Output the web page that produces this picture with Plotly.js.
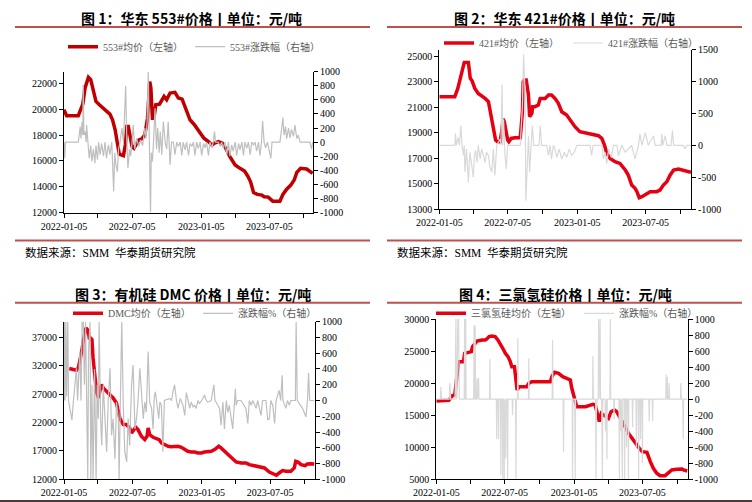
<!DOCTYPE html>
<html>
<head>
<meta charset="utf-8">
<script src="https://cdn.plot.ly/plotly-3.0.1.min.js"></script>
<style>
html,body{margin:0;padding:0;background:#fff;}
#chart{width:752px;height:502px;}
</style>
</head>
<body>
<div id="chart"></div>
<script>
// ---------------- DATA ----------------
const xTickVals = ['2022-01-05','2022-04-05','2022-07-05','2022-10-05','2023-01-05','2023-04-05','2023-07-05','2023-10-05'];
const xTickText = ['2022-01-05','','2022-07-05','','2023-01-05','','2023-07-05',''];

// Figure 1: 华东553#
const p1PriceDates = ['2022-01-05','2022-01-12','2022-02-12','2022-02-18','2022-02-24','2022-03-02','2022-03-11','2022-03-17','2022-03-24','2022-03-31','2022-04-09','2022-04-18','2022-04-28','2022-05-07','2022-05-14','2022-05-21','2022-05-27','2022-06-01','2022-06-12','2022-06-17','2022-06-21','2022-06-25','2022-06-30','2022-07-05','2022-07-10','2022-07-17','2022-07-23','2022-07-31','2022-08-08','2022-08-15','2022-08-18','2022-08-21','2022-08-24','2022-08-28','2022-09-01','2022-09-06','2022-09-16','2022-09-22','2022-09-28','2022-10-05','2022-10-14','2022-10-27','2022-11-05','2022-11-15','2022-11-25','2022-12-06','2022-12-19','2023-01-02','2023-01-12','2023-01-24','2023-02-02','2023-02-09','2023-02-19','2023-03-02','2023-03-11','2023-03-22','2023-04-05','2023-04-18','2023-04-30','2023-05-08','2023-05-16','2023-05-24','2023-06-03','2023-06-15','2023-06-21','2023-07-02','2023-07-14','2023-08-02','2023-08-10','2023-08-20','2023-08-31','2023-09-09','2023-09-16','2023-09-26','2023-10-12','2023-10-28'];
const p1Price = [19950,19490,19490,19950,20390,21640,22470,22290,21380,20600,20340,20080,19880,19620,19180,18400,17360,16510,16400,17230,18660,18660,17880,17100,16970,17360,17620,17700,18010,19300,21120,22130,21640,19300,19300,20340,20390,20650,20990,20730,21250,21300,20860,20780,19950,19180,18740,18140,17750,17490,17230,17360,17490,17360,16970,16330,15680,15420,15210,14850,14380,13550,13400,13350,13220,13190,12880,12880,13400,13810,14120,14510,15110,15420,15370,15030];
const p1ChgDates = ['2022-01-05','2022-01-07','2022-01-09','2022-02-12','2022-02-17','2022-02-19','2022-02-22','2022-02-24','2022-02-25','2022-02-27','2022-03-02','2022-03-05','2022-03-06','2022-03-09','2022-03-13','2022-03-17','2022-03-20','2022-03-24','2022-03-28','2022-03-31','2022-04-04','2022-04-07','2022-04-11','2022-04-15','2022-04-20','2022-04-24','2022-04-28','2022-05-03','2022-05-07','2022-05-12','2022-05-14','2022-05-17','2022-05-20','2022-05-23','2022-05-27','2022-05-30','2022-06-03','2022-06-08','2022-06-12','2022-06-15','2022-06-18','2022-06-21','2022-06-24','2022-06-28','2022-07-01','2022-07-05','2022-07-08','2022-07-12','2022-07-17','2022-07-23','2022-07-28','2022-08-02','2022-08-08','2022-08-11','2022-08-14','2022-08-17','2022-08-20','2022-08-23','2022-08-25','2022-08-28','2022-08-31','2022-09-04','2022-09-08','2022-09-11','2022-09-15','2022-09-18','2022-09-22','2022-09-26','2022-10-01','2022-10-05','2022-10-09','2022-10-14','2022-10-18','2022-10-23','2022-10-27','2022-11-01','2022-11-05','2022-11-10','2022-11-14','2022-11-18','2022-11-23','2022-11-27','2022-12-02','2022-12-06','2022-12-11','2022-12-15','2022-12-19','2022-12-24','2022-12-28','2023-01-02','2023-01-06','2023-01-11','2023-01-15','2023-01-19','2023-01-24','2023-01-28','2023-02-02','2023-02-06','2023-02-09','2023-02-12','2023-02-19','2023-02-24','2023-02-28','2023-03-05','2023-03-09','2023-03-14','2023-03-18','2023-03-22','2023-03-27','2023-03-31','2023-04-05','2023-04-09','2023-04-14','2023-04-18','2023-04-23','2023-04-27','2023-05-01','2023-05-06','2023-05-10','2023-05-15','2023-05-19','2023-05-24','2023-05-28','2023-06-01','2023-06-06','2023-06-10','2023-06-14','2023-06-17','2023-06-21','2023-06-25','2023-06-30','2023-07-09','2023-07-12','2023-08-02','2023-08-07','2023-08-10','2023-08-13','2023-08-17','2023-08-20','2023-08-25','2023-08-29','2023-09-02','2023-09-07','2023-09-11','2023-09-16','2023-09-20','2023-09-25','2023-10-21','2023-10-25','2023-10-28'];
const p1Chg = [0,-230,0,0,220,50,290,100,815,100,150,0,245,0,-230,-50,-275,-100,-300,-50,-250,0,-180,-20,-200,0,-230,-40,-180,0,-370,-700,-150,-320,-420,-100,0,200,0,500,800,0,-370,-100,-200,0,245,-100,50,-60,30,-50,200,50,290,1000,200,-1000,-150,-275,0,480,-100,200,-150,150,-180,290,0,-100,290,-320,0,0,-180,0,-60,0,-190,0,-110,0,-190,-20,-60,0,-190,0,-90,0,-190,-20,-80,0,-190,0,-80,0,150,0,0,-60,0,-80,0,-180,0,-200,-40,-130,0,-190,-20,-110,0,-190,0,-90,0,-180,0,-40,0,-130,0,-190,0,300,0,-80,0,-230,0,0,200,350,100,220,50,200,60,180,80,240,50,100,0,0,-100,0];

// Figure 2: 华东421#
const p2PriceDates = ['2022-01-05','2022-02-15','2022-02-23','2022-03-01','2022-03-07','2022-03-12','2022-03-23','2022-03-28','2022-04-02','2022-04-09','2022-04-18','2022-04-27','2022-05-06','2022-05-15','2022-05-19','2022-05-24','2022-05-31','2022-06-03','2022-06-08','2022-06-15','2022-06-19','2022-06-23','2022-06-26','2022-06-30','2022-07-05','2022-07-08','2022-07-14','2022-07-24','2022-08-07','2022-08-09','2022-08-13','2022-08-15','2022-08-18','2022-08-23','2022-08-29','2022-09-01','2022-09-07','2022-09-09','2022-09-15','2022-09-24','2022-09-29','2022-10-12','2022-10-21','2022-10-29','2022-11-07','2022-11-16','2022-11-25','2022-12-08','2022-12-17','2022-12-30','2023-01-12','2023-01-21','2023-02-04','2023-02-17','2023-03-02','2023-03-11','2023-03-18','2023-03-24','2023-04-02','2023-04-15','2023-04-28','2023-05-12','2023-05-20','2023-05-29','2023-06-07','2023-06-12','2023-06-18','2023-06-25','2023-07-04','2023-07-17','2023-08-03','2023-08-12','2023-08-21','2023-08-30','2023-09-08','2023-09-17','2023-09-30','2023-10-13','2023-11-02'];
const p2Price = [21810,21810,22460,23250,23900,24500,24500,23250,23040,22460,22070,21890,21680,21420,20760,19980,19070,18410,18280,18280,19070,20060,19850,19010,18410,18280,18540,18590,18590,19200,20630,22990,23120,23120,21940,20240,20500,21030,21030,21160,21680,21680,21940,21940,21680,21290,20630,20370,19980,19460,19070,19010,18930,18800,18750,18540,18020,17370,16970,16710,16580,16060,15670,14880,14620,14360,13890,13970,14100,14360,14360,14490,14880,15140,15670,16060,16140,16060,15880];
const p2ChgDates = ['2022-01-05','2022-02-15','2022-02-17','2022-02-19','2022-02-24','2022-02-27','2022-03-03','2022-03-06','2022-03-10','2022-03-12','2022-03-14','2022-03-18','2022-03-23','2022-03-27','2022-04-01','2022-04-05','2022-04-08','2022-04-11','2022-04-15','2022-04-18','2022-04-23','2022-04-27','2022-05-02','2022-05-06','2022-05-10','2022-05-15','2022-05-19','2022-05-24','2022-05-28','2022-06-01','2022-06-06','2022-06-15','2022-06-17','2022-06-20','2022-06-22','2022-06-24','2022-06-28','2022-07-01','2022-07-05','2022-08-07','2022-08-09','2022-08-13','2022-08-16','2022-08-20','2022-08-22','2022-08-25','2022-08-29','2022-09-01','2022-09-05','2022-09-08','2022-09-12','2022-09-26','2022-09-29','2022-10-03','2022-10-16','2022-10-21','2022-10-25','2022-10-29','2022-11-03','2022-11-07','2022-11-12','2022-11-18','2022-11-25','2022-12-02','2022-12-08','2022-12-15','2022-12-21','2022-12-28','2023-01-04','2023-02-08','2023-02-12','2023-02-16','2023-03-11','2023-03-15','2023-03-20','2023-03-24','2023-03-29','2023-04-05','2023-04-11','2023-04-20','2023-04-24','2023-05-03','2023-05-12','2023-05-20','2023-05-29','2023-06-07','2023-06-12','2023-06-16','2023-06-20','2023-06-25','2023-07-04','2023-07-12','2023-07-26','2023-07-30','2023-08-15','2023-08-17','2023-08-19','2023-08-26','2023-08-30','2023-09-10','2023-09-14','2023-09-17','2023-10-13','2023-10-17','2023-10-22','2023-11-02'];
const p2Chg = [0,0,190,0,125,0,310,0,-160,0,-420,-60,-580,-110,-320,-500,-160,-80,-270,0,-215,-60,-160,-270,-110,-160,-345,-420,-60,-475,0,100,0,950,0,410,-160,-370,0,0,200,620,1430,830,-870,-270,150,-420,0,310,0,0,310,0,0,-160,0,-215,0,-60,-190,-60,-215,-110,-190,-60,-160,-110,0,0,-160,0,0,-215,-110,-290,-60,-190,0,0,-160,0,-110,-60,0,-215,-110,0,180,0,200,0,150,0,0,180,0,150,0,0,230,0,0,-60,0,0];

// Figure 3: 有机硅DMC
const p3PriceDates = ['2022-01-19','2022-02-07','2022-02-12','2022-02-16','2022-02-21','2022-02-25','2022-03-04','2022-03-10','2022-03-13','2022-03-16','2022-03-20','2022-03-23','2022-03-28','2022-04-01','2022-04-06','2022-04-10','2022-04-14','2022-04-19','2022-04-28','2022-05-06','2022-05-15','2022-05-24','2022-05-28','2022-06-02','2022-06-06','2022-06-11','2022-06-19','2022-06-28','2022-07-03','2022-07-07','2022-07-14','2022-07-20','2022-07-29','2022-08-07','2022-08-13','2022-08-16','2022-08-20','2022-08-29','2022-09-07','2022-09-14','2022-09-20','2022-09-29','2022-10-08','2022-10-16','2022-10-25','2022-11-03','2022-11-12','2022-11-21','2022-11-29','2022-12-08','2022-12-17','2022-12-26','2023-01-04','2023-01-12','2023-01-21','2023-01-30','2023-02-08','2023-02-19','2023-02-25','2023-03-06','2023-03-15','2023-03-26','2023-04-06','2023-04-19','2023-05-02','2023-05-11','2023-05-24','2023-06-07','2023-06-20','2023-07-03','2023-07-16','2023-07-22','2023-07-29','2023-08-07','2023-08-16','2023-08-29','2023-09-07','2023-09-11','2023-09-17','2023-09-25','2023-10-06','2023-10-12','2023-10-21','2023-10-30'];
const p3Price = [31530,31240,31650,32820,34590,36350,38710,38240,36940,36940,36650,33410,30470,27530,26350,27820,28710,28120,27530,26820,26350,25470,24000,22820,22240,21650,21650,21060,20180,20470,21180,20760,19590,19000,19590,21060,19880,19410,19180,19000,18410,18120,17820,17760,17820,17820,17650,17240,16940,16820,16820,16650,16650,16820,16940,16940,17240,17820,17530,16940,16350,15650,15060,14880,14880,14590,14410,14290,14000,13290,12940,12710,13120,13530,13410,13410,14000,15180,15060,14590,14410,14710,14760,14710];
const p3ChgDates = ['2022-01-05','2022-01-06','2022-01-08','2022-01-10','2022-01-12','2022-01-15','2022-01-17','2022-01-26','2022-01-30','2022-02-07','2022-02-10','2022-02-16','2022-02-19','2022-02-22','2022-02-25','2022-02-28','2022-03-03','2022-03-06','2022-03-09','2022-03-11','2022-03-15','2022-03-17','2022-03-20','2022-03-23','2022-03-27','2022-03-31','2022-04-03','2022-04-06','2022-04-08','2022-04-12','2022-04-15','2022-04-19','2022-04-23','2022-04-28','2022-05-02','2022-05-07','2022-05-11','2022-05-15','2022-05-20','2022-05-24','2022-05-29','2022-05-31','2022-06-04','2022-06-07','2022-06-11','2022-06-15','2022-06-20','2022-06-24','2022-06-28','2022-07-03','2022-07-07','2022-07-12','2022-07-16','2022-07-20','2022-07-25','2022-07-29','2022-08-03','2022-08-07','2022-08-11','2022-08-16','2022-08-20','2022-08-25','2022-08-29','2022-09-01','2022-09-04','2022-09-07','2022-09-09','2022-09-13','2022-09-16','2022-09-20','2022-09-24','2022-09-28','2022-10-12','2022-10-17','2022-10-21','2022-10-25','2022-10-30','2022-11-03','2022-11-09','2022-11-16','2022-11-21','2022-11-25','2022-11-29','2022-12-04','2022-12-08','2022-12-13','2022-12-17','2022-12-21','2022-12-26','2022-12-30','2023-01-08','2023-01-12','2023-01-17','2023-01-21','2023-01-30','2023-02-03','2023-02-06','2023-02-09','2023-02-12','2023-02-21','2023-02-25','2023-03-02','2023-03-06','2023-03-11','2023-03-15','2023-03-19','2023-03-24','2023-03-28','2023-04-02','2023-04-04','2023-04-06','2023-04-10','2023-04-19','2023-05-02','2023-05-07','2023-05-11','2023-05-16','2023-05-20','2023-05-29','2023-06-02','2023-06-11','2023-06-15','2023-06-24','2023-06-29','2023-07-03','2023-07-07','2023-07-12','2023-07-17','2023-07-21','2023-07-29','2023-08-02','2023-08-06','2023-08-08','2023-08-16','2023-08-20','2023-08-25','2023-08-29','2023-09-10','2023-09-12','2023-09-15','2023-09-29','2023-10-08','2023-10-12','2023-10-15','2023-10-18','2023-10-30'];
const p3Chg = [0,1000,0,1000,50,1000,0,-250,0,410,0,620,0,1000,1000,200,1000,70,-1000,620,1000,-1000,200,-1000,400,-1000,200,-230,1000,-230,-570,200,-230,-650,-20,410,-440,-230,-740,-20,-230,-1000,200,1000,-60,-650,-780,-230,-570,200,450,-360,-230,-20,410,70,-230,-20,-150,620,-20,-100,-360,30,110,0,-60,-230,-20,-60,-650,0,25,0,120,200,0,-100,25,-60,-190,100,25,-100,-20,-80,-60,-100,0,-40,25,70,0,-20,0,120,200,0,-20,-100,-315,-20,-360,0,-150,-60,-230,-360,0,150,-60,0,0,-100,-290,0,-60,0,-100,0,-190,0,0,-250,-230,0,-60,-290,0,130,0,320,0,-100,0,-60,0,0,1000,0,-100,-210,0,350,0,0];

// Figure 4: 三氯氢硅
const p4PriceDates = ['2022-01-05','2022-02-07','2022-02-11','2022-02-17','2022-02-23','2022-02-26','2022-03-02','2022-03-05','2022-03-18','2022-03-21','2022-04-08','2022-04-11','2022-04-16','2022-04-23','2022-05-06','2022-05-15','2022-05-19','2022-05-25','2022-06-01','2022-06-10','2022-06-17','2022-06-23','2022-06-30','2022-07-07','2022-07-14','2022-07-20','2022-07-24','2022-07-31','2022-08-04','2022-08-07','2022-08-13','2022-09-02','2022-09-07','2022-09-15','2022-11-03','2022-11-07','2022-11-14','2022-11-25','2022-12-06','2022-12-17','2022-12-26','2022-12-30','2023-01-04','2023-01-08','2023-01-12','2023-02-04','2023-02-17','2023-02-24','2023-03-02','2023-03-08','2023-03-13','2023-03-18','2023-03-24','2023-03-30','2023-04-06','2023-04-13','2023-04-22','2023-04-28','2023-05-03','2023-05-07','2023-05-12','2023-05-16','2023-05-20','2023-05-29','2023-06-07','2023-06-16','2023-06-27','2023-07-05','2023-07-17','2023-07-26','2023-08-03','2023-08-12','2023-08-21','2023-09-03','2023-09-12','2023-09-21','2023-10-04','2023-10-18','2023-10-22','2023-11-01'];
const p4Price = [17210,17320,17630,18050,18150,19450,21270,23350,23350,24650,24910,25690,26050,26570,26730,26730,26880,27250,27350,27250,26730,26210,25430,24650,24130,23350,22570,22570,19710,18930,19450,19450,19970,20230,20230,21010,21680,21530,21010,20640,20490,19190,17890,17370,16330,16330,16490,16700,16590,15030,13990,15290,15030,14770,14510,15550,15810,15550,15030,14510,14250,13730,13210,12170,11390,10610,9830,9310,9210,7750,6720,5940,5570,5570,6090,6460,6560,6610,6460,6300];
const p4ChgDates = ['2022-01-05','2022-01-16','2022-01-17','2022-01-19','2022-02-08','2022-02-10','2022-02-12','2022-02-23','2022-02-24','2022-02-26','2022-02-27','2022-03-01','2022-03-03','2022-03-05','2022-03-07','2022-03-20','2022-03-21','2022-03-22','2022-03-24','2022-03-25','2022-04-14','2022-04-15','2022-04-16','2022-04-18','2022-04-19','2022-04-22','2022-04-23','2022-04-24','2022-04-27','2022-04-28','2022-05-26','2022-05-27','2022-05-28','2022-06-13','2022-06-14','2022-06-15','2022-06-18','2022-06-19','2022-06-20','2022-06-24','2022-06-25','2022-06-26','2022-06-29','2022-06-30','2022-07-01','2022-07-03','2022-07-04','2022-07-05','2022-07-08','2022-07-09','2022-07-12','2022-07-13','2022-07-14','2022-07-25','2022-07-26','2022-07-27','2022-08-03','2022-08-04','2022-08-05','2022-08-08','2022-08-09','2022-08-10','2022-09-06','2022-09-07','2022-09-08','2022-11-08','2022-11-09','2022-11-10','2022-12-07','2022-12-08','2022-12-09','2022-12-31','2023-01-01','2023-01-02','2023-01-07','2023-01-08','2023-01-09','2023-02-23','2023-02-24','2023-02-25','2023-03-03','2023-03-04','2023-03-05','2023-03-07','2023-03-10','2023-03-11','2023-03-12','2023-03-15','2023-03-16','2023-03-19','2023-03-20','2023-03-21','2023-03-22','2023-03-28','2023-03-29','2023-03-30','2023-04-01','2023-04-02','2023-04-03','2023-04-10','2023-04-11','2023-04-12','2023-04-20','2023-04-21','2023-04-22','2023-05-04','2023-05-05','2023-05-06','2023-05-08','2023-05-09','2023-05-10','2023-05-13','2023-05-14','2023-05-18','2023-05-19','2023-05-20','2023-05-23','2023-05-24','2023-05-25','2023-05-28','2023-05-29','2023-05-30','2023-06-08','2023-06-09','2023-06-10','2023-06-18','2023-06-19','2023-06-20','2023-06-24','2023-06-25','2023-06-26','2023-06-29','2023-06-30','2023-07-01','2023-07-04','2023-07-05','2023-07-06','2023-07-22','2023-07-23','2023-07-24','2023-07-31','2023-08-01','2023-08-02','2023-09-05','2023-09-06','2023-09-07','2023-09-09','2023-09-10','2023-09-13','2023-09-14','2023-09-15','2023-10-14','2023-10-15','2023-10-16','2023-10-20','2023-10-21','2023-10-22','2023-11-01'];
const p4Chg = [0,0,150,0,0,200,0,0,120,1000,0,50,1000,1000,0,0,1000,0,1000,0,0,920,0,920,0,0,260,0,260,0,0,500,0,0,-500,0,0,-500,0,0,-950,0,0,-1000,0,0,-1000,0,-740,0,0,-1000,0,0,-200,0,0,-1000,0,0,760,0,0,510,0,0,740,0,0,-660,0,0,-1000,0,0,-1000,0,0,540,0,0,-1000,-200,0,0,1000,0,1000,0,0,-1000,-1000,0,0,-400,0,0,-750,0,0,1000,0,0,-250,0,0,-1000,0,0,-400,0,-1000,0,0,-1000,0,0,-600,0,0,-1000,0,0,-350,0,0,-600,0,0,-1000,0,0,-500,0,0,-800,0,0,-280,0,0,-280,0,0,310,0,280,0,0,200,0,0,200,0,0,-500,0,0];

const p1LeftTicks = [12000,14000,16000,18000,20000,22000];
const p2LeftTicks = [13000,15000,17000,19000,21000,23000,25000];
const p3LeftTicks = [12000,17000,22000,27000,32000,37000];
const p4LeftTicks = [5000,10000,15000,20000,25000,30000];
const rightTicks200 = [-1000,-800,-600,-400,-200,0,200,400,600,800,1000];
const rightTicks500 = [-1000,-500,0,500,1000,1500];

// ---------------- LAYOUT HELPERS ----------------
const W = 752, H = 502;
const fx = p => p / W;
const fy = p => 1 - p / H;
const serif = '"Liberation Serif", "Times New Roman", serif';
const cjk = '"Noto Sans CJK SC", sans-serif';
const mixed = '"Liberation Serif", "Noto Sans CJK SC", serif';

function xAxis(l, r, bottom, anchor, end) {
  return {domain:[fx(l), fx(r)], anchor:anchor, type:'date', range:['2022-01-05', end],
    tickmode:'array', tickvals:xTickVals, ticktext:xTickText,
    ticks:'outside', ticklen:4, tickwidth:1, tickcolor:'#000',
    showline:true, linecolor:'#000', linewidth:1, showgrid:false, zeroline:false,
    tickfont:{family:serif, size:10, color:'#000'}, fixedrange:true};
}
function yAxis(top, bottom, anchor, range, vals, side, overlay, col) {
  const a = {domain:[fy(bottom), fy(top)], anchor:anchor, range:range, side:side,
    tickmode:'array', tickvals:vals, ticktext:vals.map(v => String(v)),
    ticks:'outside', ticklen:4, tickwidth:1, tickcolor:'#000',
    showline:true, linecolor:'#000', linewidth:1, showgrid:false, zeroline:false,
    tickfont:{family:serif, size:10, color:col || '#000'}, fixedrange:true};
  if (overlay) a.overlaying = overlay;
  return a;
}
function lineTrace(x, y, name, color, width, xa, ya, leg) {
  return {type:'scatter', mode:'lines', x:x, y:y, name:name, xaxis:xa, yaxis:ya,
    line:{color:color, width:width}, legend:leg, hoverinfo:'skip', cliponaxis:true};
}
function legendAt(sx, sy) {
  return {x:fx(sx - 5), y:fy(sy), xanchor:'left', yanchor:'middle', orientation:'h',
    bgcolor:'rgba(0,0,0,0)', borderwidth:0, itemwidth:30,
    font:{family:mixed, size:10, color:'#595959'}};
}

const traces = [
  lineTrace(p1PriceDates, p1Price, '553#均价（左轴）', '#C00000', 3.5, 'x', 'y', 'legend'),
  lineTrace(p1ChgDates, p1Chg, '553#涨跌幅（右轴）', '#BFBFBF', 1.2, 'x', 'y2', 'legend2'),
  lineTrace(p2PriceDates, p2Price, '421#均价（左轴）', '#E60012', 3.5, 'x2', 'y3', 'legend3'),
  lineTrace(p2ChgDates, p2Chg, '421#涨跌幅（右轴）', '#D9D9D9', 1.2, 'x2', 'y4', 'legend4'),
  lineTrace(p3PriceDates, p3Price, 'DMC均价（左轴）', '#E60012', 3.5, 'x3', 'y5', 'legend5'),
  lineTrace(p3ChgDates, p3Chg, '涨跌幅%（右轴）', '#BFBFBF', 1.2, 'x3', 'y6', 'legend6'),
  lineTrace(p4PriceDates, p4Price, '三氯氢硅均价（左轴）', '#E60012', 3.5, 'x4', 'y7', 'legend7'),
  lineTrace(p4ChgDates, p4Chg, '涨跌幅%（右轴）', '#D9D9D9', 1.2, 'x4', 'y8', 'legend8')
];

const sepColor = '#C0504D';
function hline(x0, x1, y, color, w) {
  return {type:'line', xref:'paper', yref:'paper', x0:fx(x0), x1:fx(x1), y0:fy(y), y1:fy(y),
    line:{color:color, width:w}};
}
function title(text, cx, cy) {
  return {text:text, xref:'paper', yref:'paper', x:fx(cx), y:fy(cy), xanchor:'center', yanchor:'middle',
    showarrow:false, font:{family:cjk, size:14, color:'#000', weight:'bold'}};
}
function source(x, y) {
  return {text:'数据来源：SMM  华泰期货研究院', xref:'paper', yref:'paper', x:fx(x), y:fy(y),
    xanchor:'left', yanchor:'middle', showarrow:false,
    font:{family:'"Liberation Serif", "Noto Sans CJK SC", serif', size:11.5, color:'#000'}};
}

const layout = {
  width:W, height:H, autosize:false,
  margin:{l:0, r:0, t:0, b:0, pad:0},
  paper_bgcolor:'#fff', plot_bgcolor:'rgba(0,0,0,0)',
  showlegend:true, hovermode:false,
  xaxis:  xAxis(64, 313, 212.5, 'y', '2023-10-29'),
  yaxis:  yAxis(71.7, 212.5, 'x', [12000, 22900], p1LeftTicks, 'left'),
  yaxis2: yAxis(71.7, 212.5, 'x', [-1000, 1000], rightTicks200, 'right', 'y'),
  xaxis2: xAxis(439.3, 691, 209, 'y3', '2023-11-02'),
  yaxis3: yAxis(49.7, 209, 'x2', [13000, 25500], p2LeftTicks, 'left'),
  yaxis4: yAxis(49.7, 209, 'x2', [-1000, 1500], rightTicks500, 'right', 'y3'),
  xaxis3: xAxis(64, 315, 479.3, 'y5', '2023-11-01'),
  yaxis5: yAxis(321.7, 479.3, 'x3', [12000, 39800], p3LeftTicks, 'left'),
  yaxis6: yAxis(321.7, 479.3, 'x3', [-1000, 1000], rightTicks200, 'right', 'y5'),
  xaxis4: xAxis(436.3, 687.7, 479.3, 'y7', '2023-11-02'),
  yaxis7: yAxis(319, 479.3, 'x4', [5000, 30000], p4LeftTicks, 'left'),
  yaxis8: yAxis(319, 479.3, 'x4', [-1000, 1000], rightTicks200, 'right', 'y7'),
  legend:  legendAt(68, 46.7),
  legend2: legendAt(195, 46.7),
  legend3: legendAt(444, 43),
  legend4: legendAt(573, 43),
  legend5: legendAt(73, 313.3),
  legend6: legendAt(203, 313.3),
  legend7: legendAt(436, 313.3),
  legend8: legendAt(584, 313.3),
  shapes: [
    hline(15, 370, 27, sepColor, 2),
    hline(387, 742, 27, sepColor, 2),
    hline(15, 370, 240.5, sepColor, 2),
    hline(387, 742, 240.5, sepColor, 2),
    hline(15, 370, 302.7, sepColor, 2),
    hline(387, 742, 302.7, sepColor, 2),
    hline(0, 752, 501, '#4d3b3b', 2)
  ],
  annotations: [
    title('图 1：华东 553#价格丨单位：元/吨', 192, 18),
    title('图 2：华东 421#价格丨单位：元/吨', 564.5, 18),
    title('图 3：有机硅 DMC 价格丨单位：元/吨', 192.5, 293.5),
    title('图 4：三氯氢硅价格丨单位：元/吨', 565, 293.5),
    source(23, 252),
    source(395, 252)
  ]
};

Plotly.newPlot('chart', traces, layout, {staticPlot:true, displayModeBar:false});
</script>
</body>
</html>
